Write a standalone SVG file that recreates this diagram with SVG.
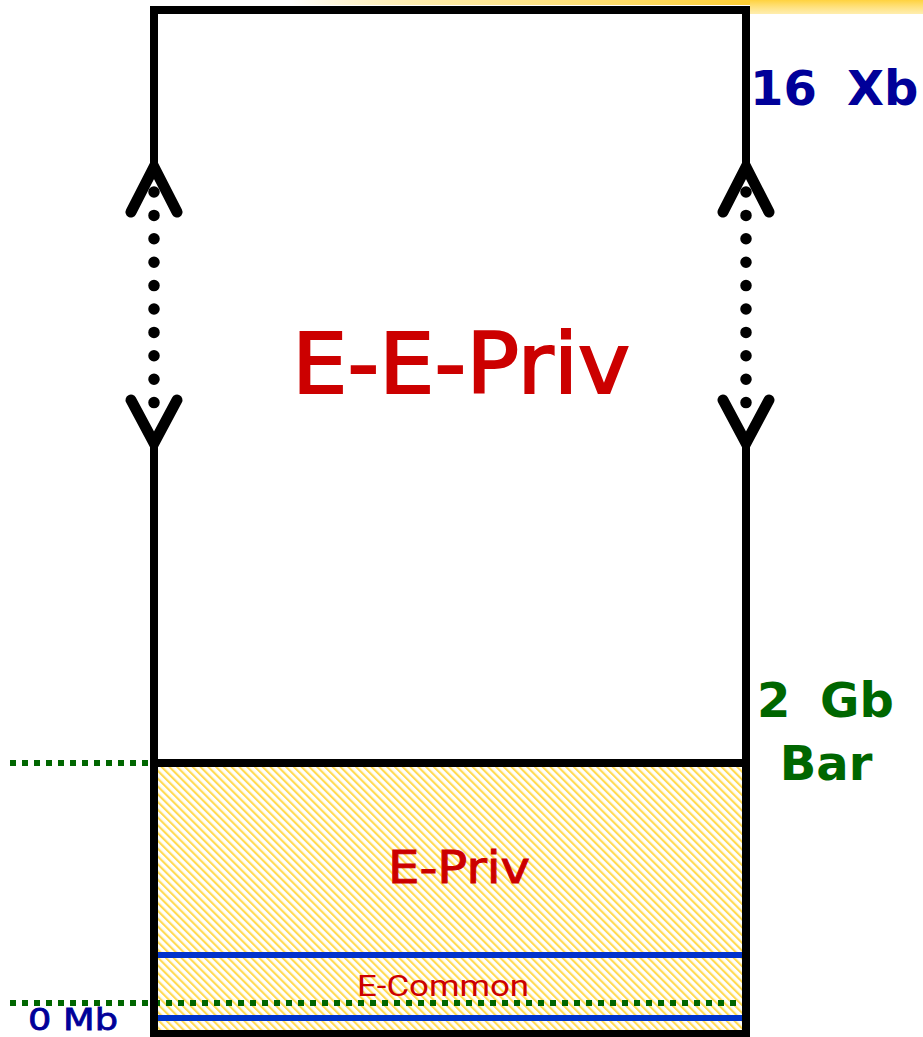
<svg xmlns="http://www.w3.org/2000/svg" width="923" height="1037" viewBox="0 0 923 1037">
<defs>
<pattern id="hatch" patternUnits="userSpaceOnUse" width="5.5" height="5.5" patternTransform="rotate(-45)">
<rect width="5.5" height="5.5" fill="#ffffff"/>
<rect x="0" y="0" width="1.8" height="5.5" fill="#ffd94d"/>
<rect x="1.8" y="0" width="1" height="5.5" fill="#fff3c4"/>
</pattern>
<linearGradient id="glow" x1="0" y1="0" x2="1" y2="0">
<stop offset="0" stop-color="#ffd23f" stop-opacity="0"/>
<stop offset="0.35" stop-color="#ffe27a" stop-opacity="0.7"/>
<stop offset="1" stop-color="#ffcf33" stop-opacity="1"/>
</linearGradient>
<linearGradient id="glow2" x1="0" y1="0" x2="0" y2="1">
<stop offset="0" stop-color="#ffd23f" stop-opacity="1"/>
<stop offset="1" stop-color="#ffe27a" stop-opacity="0.6"/>
</linearGradient>
</defs>
<style>
.box{stroke:#000;stroke-width:8;fill:none}
.arm{stroke:#000;stroke-width:11;fill:none;stroke-linecap:round;stroke-linejoin:miter}
.dots{stroke:#000;stroke-width:11.5;stroke-linecap:round;stroke-dasharray:0 23.4;fill:none}
.gdash{stroke:#006600;stroke-width:6;stroke-dasharray:6 6;fill:none}
.blue{stroke:#0033cc;stroke-width:6;fill:none}
.red{fill:#cc0000;stroke:#cc0000;font-family:"DejaVu Sans",Verdana,sans-serif}
.navy{fill:#000099;font-family:"DejaVu Sans",Verdana,sans-serif}
.green{fill:#006600;font-family:"DejaVu Sans",Verdana,sans-serif;font-weight:bold}
</style>
<rect width="923" height="1037" fill="#ffffff"/>
<!-- top highlight -->
<rect x="290" y="0" width="460" height="5" fill="url(#glow)"/>
<rect x="750" y="0" width="173" height="14" fill="url(#glow2)"/>

<g id="e-priv-region">
<rect x="154" y="763" width="592" height="270" fill="url(#hatch)"/>
</g>

<g id="connectors">
<line class="blue" x1="154" y1="955" x2="746" y2="955"/>
<line class="blue" x1="154" y1="1018" x2="746" y2="1018"/>
<line class="gdash" x1="10" y1="763" x2="150" y2="763"/>
<line class="gdash" x1="10" y1="1003" x2="754" y2="1003"/>

<!-- left side -->
<line class="box" x1="154" y1="6" x2="154" y2="172"/>
<polyline class="arm" points="131,212 154,167 177,212"/>
<line class="dots" x1="154" y1="192" x2="154" y2="404"/>
<polyline class="arm" points="131,400 154,443 177,400"/>
<line class="box" x1="154" y1="436" x2="154" y2="1037"/>

<!-- right side -->
<line class="box" x1="746" y1="6" x2="746" y2="172"/>
<polyline class="arm" points="723,212 746,167 769,212"/>
<line class="dots" x1="746" y1="192" x2="746" y2="404"/>
<polyline class="arm" points="723,400 746,443 769,400"/>
<line class="box" x1="746" y1="436" x2="746" y2="1037"/>

<!-- top, divider, bottom -->
<line class="box" x1="150" y1="10" x2="750" y2="10"/>
<line class="box" x1="150" y1="763" x2="750" y2="763"/>
<line class="box" x1="150" y1="1034" x2="750" y2="1034"/>
</g>

<g id="label-eepriv">
<text class="red" x="461" y="393" font-size="84" stroke-width="2" text-anchor="middle" textLength="338" lengthAdjust="spacingAndGlyphs">E-E-Priv</text>
</g>
<g id="label-epriv">
<text class="red" x="459" y="883" font-size="45" stroke-width="1" text-anchor="middle" textLength="142" lengthAdjust="spacingAndGlyphs">E-Priv</text>
</g>
<g id="label-ecommon">
<text x="443" y="996" font-size="30" text-anchor="middle" fill="#cc0000" font-family="Roboto, 'Liberation Sans', sans-serif" textLength="172" lengthAdjust="spacingAndGlyphs">E-Common</text>
</g>
<g id="label-16xb">
<text class="navy" x="750" y="105" font-size="48" font-weight="bold"><tspan>16</tspan><tspan x="847">Xb</tspan></text>
</g>
<g id="label-2gb">
<text class="green" x="757" y="717" font-size="48"><tspan>2</tspan><tspan x="820">Gb</tspan></text>
<text class="green" x="826" y="780" font-size="48" text-anchor="middle">Bar</text>
</g>
<g id="label-0mb">
<text class="navy" x="73" y="1030" font-size="31" stroke="#000099" stroke-width="0.8" text-anchor="middle" textLength="90" lengthAdjust="spacingAndGlyphs">0 Mb</text>
</g>
</svg>
